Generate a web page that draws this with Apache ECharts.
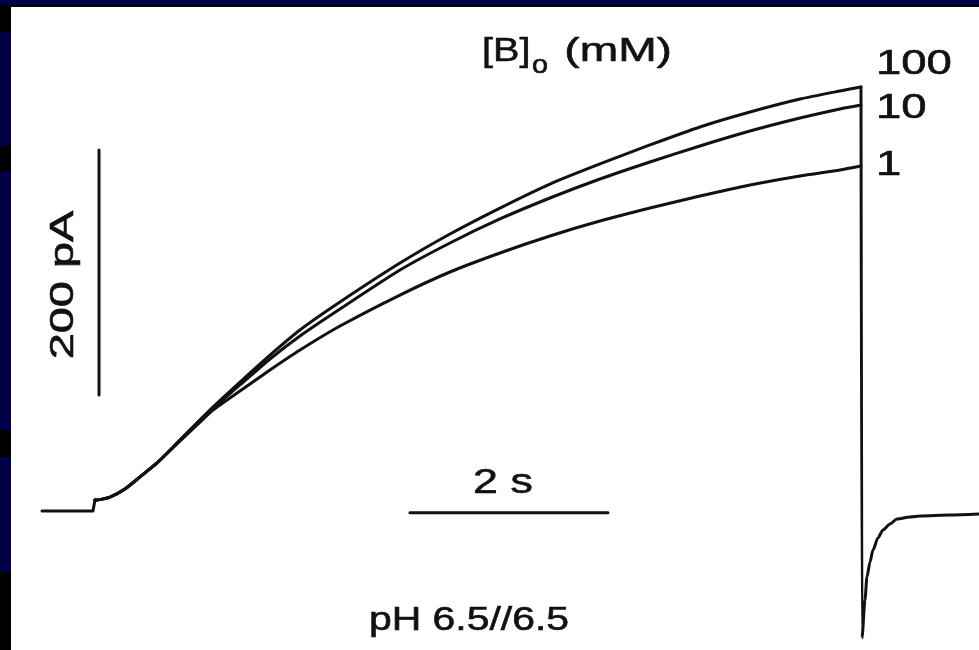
<!DOCTYPE html>
<html>
<head>
<meta charset="utf-8">
<script src="https://cdn.jsdelivr.net/npm/echarts@6/dist/echarts.min.js"></script>
<style>
html,body{margin:0;padding:0;background:#000046;}
#c{width:979px;height:650px;}
</style>
</head>
<body>
<div id="c"></div>
<script>
// time in s, current in pA
const baseT = [0, 0.515, 0.535];
const baseI = [0, 0, 9.0];
const traceT = [0.535, 0.556, 0.687, 0.838, 0.990, 1.162, 1.364, 1.566, 1.727, 2.000, 2.303, 2.606, 3.010, 3.616, 4.121, 4.626, 5.131, 5.636, 6.141, 6.646, 7.152, 7.657, 8.061, 8.273];
const I100 = [9.0, 9.0, 11.4, 18.0, 27.8, 39.2, 55.5, 71.8, 84.9, 105.3, 127.3, 147.8, 170.6, 202.4, 226.1, 247.3, 266.9, 283.3, 298.8, 313.5, 325.7, 336.3, 342.9, 346.1];
const I10  = [9.0, 9.0, 11.4, 18.0, 27.8, 39.2, 55.5, 71.8, 84.1, 102.9, 124.1, 142.9, 164.9, 196.7, 218.8, 238.4, 255.5, 271.0, 284.9, 298.0, 310.2, 320.8, 328.2, 331.4];
const I1   = [9.0, 9.0, 11.4, 18.0, 27.8, 39.2, 54.7, 70.2, 82.4, 98.0, 115.1, 131.4, 151.0, 176.3, 195.1, 210.6, 224.5, 236.7, 247.3, 257.1, 266.1, 273.5, 278.4, 281.6];
const recT = [8.273, 8.283, 8.313, 8.333, 8.364, 8.394, 8.444, 8.495, 8.566, 8.636, 8.768, 8.869, 9.172, 9.475];
const recI = [346.1, -103.7, -72.7, -53.9, -41.6, -31.8, -22.0, -15.5, -10.6, -6.5, -4.9, -4.1, -3.3, -2.4];
const barV = [[0.576, 94.7], [0.576, 294.7]];   // 200 pA
const barH = [[3.717, -1.4], [5.717, -1.4]];    // 2 s
const concLabels = ['100', '10', '1'];

const zip = (t, v) => t.map((x, i) => [x, v[i]]);
const INK = '#111';
const FONT = 'Liberation Sans, Arial, sans-serif';

function lineSeries(data, smooth, w, mono) {
  const s = {
    type: 'line', data: data, showSymbol: false, smooth: smooth,
    clip: false, silent: true,
    lineStyle: { color: INK, width: w || 3, cap: 'round', join: 'round' }
  };
  if (mono) s.smoothMonotone = 'x';
  return s;
}

function txt(text, x, y, size, sx, align, extra) {
  return Object.assign({
    type: 'text', x: x, y: y, scaleX: sx, silent: true,
    style: { text: text, fill: INK, stroke: INK, lineWidth: 0.6, font: size + 'px ' + FONT, align: align || 'left', verticalAlign: 'middle' }
  }, extra || {});
}

const chart = echarts.init(document.getElementById('c'), null, { renderer: 'canvas' });
chart.setOption({
  backgroundColor: '#000046',
  animation: false,
  grid: { left: 42, top: 21, width: 936.5, height: 624.75 },
  xAxis: { type: 'value', min: 0, max: 9.46, show: false },
  yAxis: { type: 'value', min: -110, max: 400, show: false },
  graphic: [
    { type: 'rect', z: -10, silent: true, shape: { x: 11, y: 7, width: 968, height: 643 }, style: { fill: '#fff' } },
    { type: 'rect', z: -10, silent: true, shape: { x: 0, y: 4, width: 979, height: 3 }, style: { fill: '#000010' } },
    { type: 'rect', z: -10, silent: true, shape: { x: 0, y: 7, width: 11, height: 25 }, style: { fill: '#000' } },
    { type: 'rect', z: -10, silent: true, shape: { x: 0, y: 145, width: 11, height: 27 }, style: { fill: '#000' } },
    { type: 'rect', z: -10, silent: true, shape: { x: 0, y: 430, width: 11, height: 27 }, style: { fill: '#000' } },
    { type: 'rect', z: -10, silent: true, shape: { x: 0, y: 572, width: 11, height: 78 }, style: { fill: '#000' } },
    txt('[B]', 482, 52, 33, 1.2),
    txt('o', 532, 66, 25, 1.15),
    txt('(mM)', 672, 52, 33, 1.4, 'right'),
    txt(concLabels[0], 876, 64, 35, 1.3),
    txt(concLabels[1], 876, 108, 35, 1.3),
    txt(concLabels[2], 876, 165, 35, 1.3),
    txt('200 pA', 64, 285, 34, 1.38, 'center', { rotation: Math.PI / 2 }),
    txt('2 s', 503, 483, 35, 1.28, 'center'),
    txt('pH 6.5//6.5', 469, 621, 33, 1.24, 'center')
  ],
  series: [
    lineSeries(zip(baseT, baseI), false),
    lineSeries(zip(traceT, I100), 0.2),
    lineSeries(zip(traceT, I10), 0.2),
    lineSeries(zip(traceT, I1), 0.2),
    lineSeries(zip(recT, recI), 0.25, 3, true),
    lineSeries(barV, false, 3),
    lineSeries(barH, false, 3)
  ]
});
</script>
</body>
</html>
